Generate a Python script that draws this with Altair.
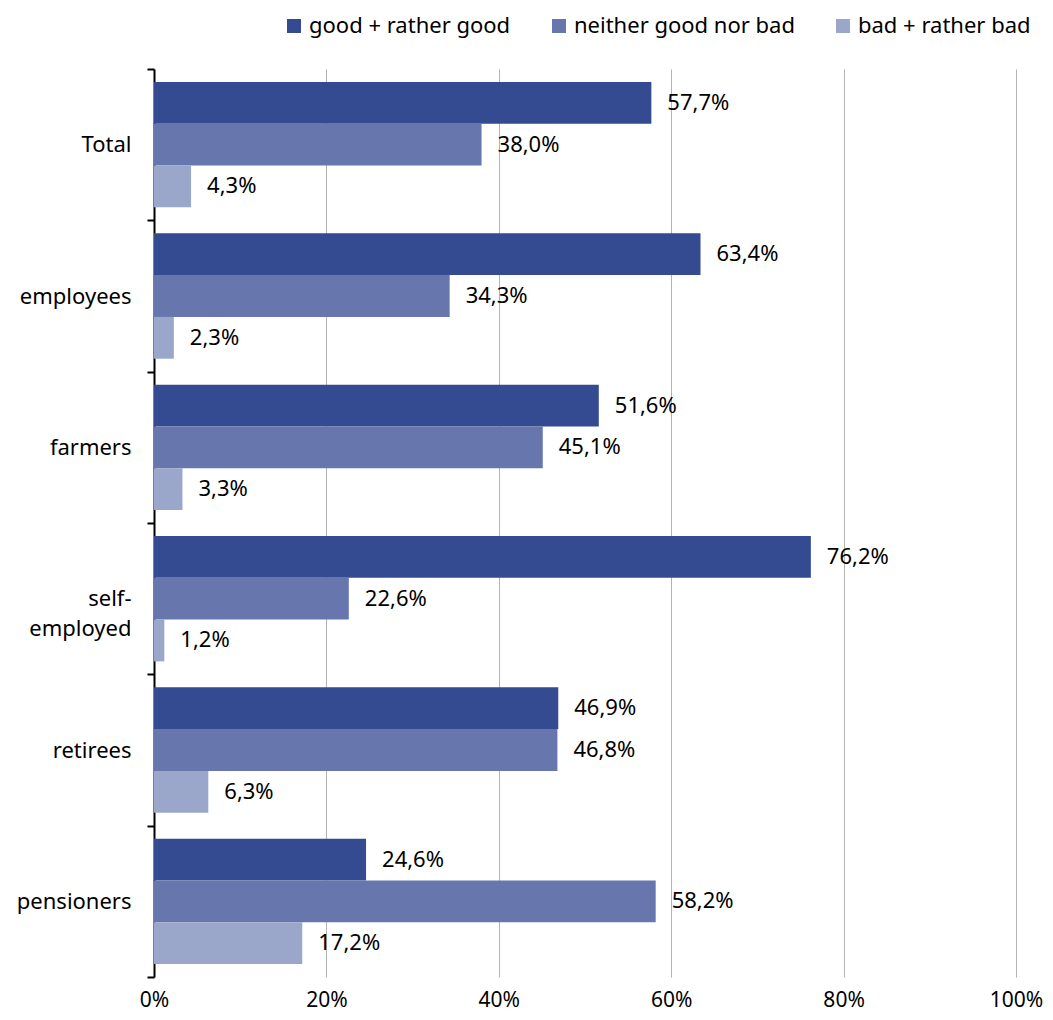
import altair as alt
import pandas as pd

categories = ["Total", "employees", "farmers", "self-employed", "retirees", "pensioners"]
series = ["good + rather good", "neither good nor bad", "bad + rather bad"]
good = [57.7, 63.4, 51.6, 76.2, 46.9, 24.6]
neither = [38.0, 34.3, 45.1, 22.6, 46.8, 58.2]
bad = [4.3, 2.3, 3.3, 1.2, 6.3, 17.2]
colors = ["#344a91", "#6777ae", "#9aa6ca"]
x_ticks = [0, 20, 40, 60, 80, 100]

rows = []
for i, c in enumerate(categories):
    for s, vals in zip(series, [good, neither, bad]):
        rows.append({"category": c, "series": s, "value": vals[i]})
df = pd.DataFrame(rows)

FONT = "Noto Sans"

y_enc = alt.Y(
    "category:N",
    sort=categories,
    scale=alt.Scale(paddingInner=0, paddingOuter=0),
    axis=alt.Axis(
        title=None,
        tickBand="extent",
        tickSize=7,
        tickWidth=2,
        tickColor="black",
        domainColor="black",
        domainWidth=2,
        labelFontSize=22,
        labelFont=FONT,
        labelColor="black",
        labelPadding=16,
        labelLineHeight=30,
        labelExpr="datum.label == 'self-employed' ? ['self-', 'employed'] : datum.label",
        grid=False,
    ),
)
yoff_enc = alt.YOffset(
    "series:N",
    sort=series,
    scale=alt.Scale(paddingOuter=0.31, paddingInner=0),
)
x_enc = alt.X(
    "value:Q",
    scale=alt.Scale(domain=[0, 100], nice=False),
    axis=alt.Axis(
        title=None,
        values=x_ticks,
        labelExpr="datum.value + '%'",
        labelFontSize=21,
        labelFont=FONT,
        labelColor="black",
        labelPadding=12,
        labelFlush=False,
        ticks=False,
        domain=False,
        grid=True,
        gridColor="#b3b3b3",
        gridWidth=1,
    ),
)

base = alt.Chart(df)

bars = base.mark_bar().encode(
    x=x_enc,
    y=y_enc,
    yOffset=yoff_enc,
    color=alt.Color(
        "series:N",
        sort=series,
        scale=alt.Scale(domain=series, range=colors),
        legend=alt.Legend(
            title=None,
            orient="none",
            legendX=129,
            legendY=-54,
            direction="horizontal",
            symbolType="square",
            symbolSize=196,
            symbolStrokeWidth=0,
            labelFontSize=22,
            labelFont=FONT,
            labelColor="black",
            labelOffset=4,
            labelLimit=0,
            columnPadding=37,
        ),
    ),
)

labels = base.transform_calculate(
    label="replace(format(datum.value, '.1f'), '.', ',') + '%'"
).mark_text(
    align="left", baseline="middle", dx=16, fontSize=22, font=FONT, color="black"
).encode(
    x="value:Q",
    y=alt.Y("category:N", sort=categories),
    yOffset=alt.YOffset("series:N", sort=series),
    text="label:N",
)

chart = (
    alt.layer(bars, labels)
    .properties(
        width=862,
        height=908,
        autosize=alt.AutoSizeParams(type="none"),
        padding={"left": 146, "top": 61, "right": 29, "bottom": 35},
    )
    .configure_view(stroke="transparent")
)

chart.save("out.html", embed_options={"renderer": "svg", "actions": False})
